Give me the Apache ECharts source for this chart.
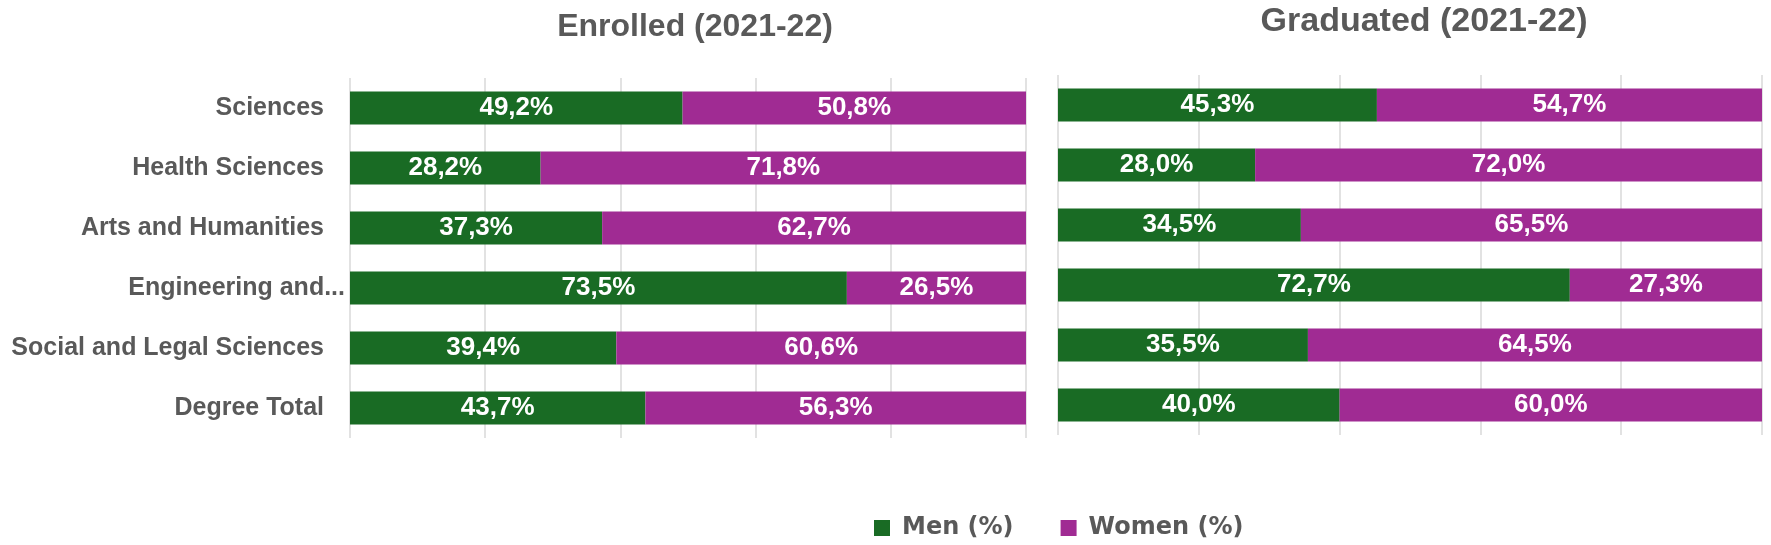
<!DOCTYPE html>
<html>
<head>
<meta charset="utf-8">
<script src="https://cdn.jsdelivr.net/npm/echarts@6/dist/echarts.min.js"></script>
<style>
  html, body { margin: 0; padding: 0; background: #fff; }
  #main { width: 1771px; height: 545px; }
</style>
</head>
<body>
<div id="main"></div>
<script>
// 数据
var categories = ['Sciences', 'Health Sciences', 'Arts and Humanities', 'Engineering and...', 'Social and Legal Sciences', 'Degree Total'];
var enrolledMen = [49.2, 28.2, 37.3, 73.5, 39.4, 43.7];
var enrolledWomen = [50.8, 71.8, 62.7, 26.5, 60.6, 56.3];
var graduatedMen = [45.3, 28.0, 34.5, 72.7, 35.5, 40.0];
var graduatedWomen = [54.7, 72.0, 65.5, 27.3, 64.5, 60.0];
var seriesNames = ['Men (%)', 'Women (%)'];
var titles = ['Enrolled (2021-22)', 'Graduated (2021-22)'];

var green = '#196B24';
var purple = '#A02B93';
var grey = '#595959';

function pct(p) {   // 49.2 -> 49,2%
    return p.value.toFixed(1).replace('.', ',') + '%';
}

function bar(name, data, color, idx) {
    return {
        name: name,
        type: 'bar',
        stack: 'total' + idx,
        xAxisIndex: idx,
        yAxisIndex: idx,
        barWidth: 33,
        data: data,
        itemStyle: { color: color },
        label: {
            show: true,
            position: 'inside',
            formatter: pct,
            color: '#fff',
            fontFamily: 'Liberation Sans',
            fontWeight: 'bold',
            fontSize: 26
        }
    };
}

function xAxis(idx) {
    return {
        gridIndex: idx,
        type: 'value',
        min: 0,
        max: 100,
        interval: 20,
        axisLabel: { show: false },
        axisLine: { show: false },
        axisTick: { show: false },
        splitLine: { lineStyle: { color: '#d9d9d9', width: 1.5 } }
    };
}

var myChart = echarts.init(document.getElementById('main'));
var option = {
    animation: false,
    title: [
        { text: titles[0], left: 690, top: 6, textAlign: 'center',
          textStyle: { color: grey, fontFamily: 'Liberation Sans', fontWeight: 'bold', fontSize: 32 } },
        { text: titles[1], left: 1419, top: 0, textAlign: 'center',
          textStyle: { color: grey, fontFamily: 'Liberation Sans', fontWeight: 'bold', fontSize: 34 } }
    ],
    legend: {
        data: seriesNames,
        left: 869,
        top: 511,
        itemWidth: 16,
        itemHeight: 16,
        itemGap: 47,
        icon: 'rect',
        textStyle: { color: grey, fontFamily: 'DejaVu Sans', fontWeight: 'bold', fontSize: 24, padding: [0, 0, 0, 7] }
    },
    grid: [
        { left: 350, top: 78, width: 676, height: 360 },   // Enrolled
        { left: 1058, top: 75, width: 704, height: 360 }   // Graduated
    ],
    xAxis: [xAxis(0), xAxis(1)],
    yAxis: [
        {
            gridIndex: 0,
            type: 'category',
            inverse: true,
            data: categories,
            axisLine: { show: false },
            axisTick: { show: false },
            axisLabel: {
                margin: 5,
                formatter: function (v) {
                    return v.indexOf('...') >= 0 ? '{e|' + v + '}' : '{n|' + v + '}';
                },
                rich: {
                    n: { color: grey, fontFamily: 'Liberation Sans', fontWeight: 'bold', fontSize: 25, padding: [0, 21, 0, 0] },
                    e: { color: grey, fontFamily: 'Liberation Sans', fontWeight: 'bold', fontSize: 25 }
                }
            }
        },
        {
            gridIndex: 1,
            type: 'category',
            inverse: true,
            data: categories,
            axisLine: { show: false },
            axisTick: { show: false },
            axisLabel: { show: false }
        }
    ],
    series: [
        bar(seriesNames[0], enrolledMen, green, 0),
        bar(seriesNames[1], enrolledWomen, purple, 0),
        bar(seriesNames[0], graduatedMen, green, 1),
        bar(seriesNames[1], graduatedWomen, purple, 1)
    ]
};
myChart.setOption(option);
</script>
</body>
</html>
